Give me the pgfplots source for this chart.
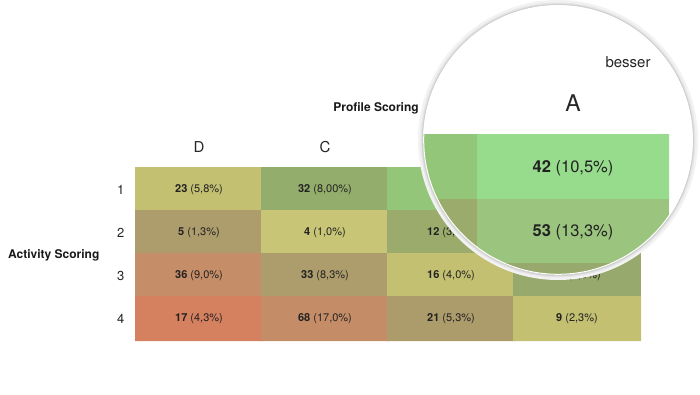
\documentclass[border=0pt]{standalone}
\usepackage{pgfplots}
\usepackage{pgfplotstable}
\pgfplotsset{compat=1.18}
\usepackage{fontspec}
\setmainfont{TeX Gyre Heros}
\definecolor{txt}{HTML}{222222}
\pgfplotstableread{
x y c
0 1 rgb255=196,192,114
1 1 rgb255=147,174,108
2 1 rgb255=148,198,122
3 1 rgb255=151,220,140
0 2 rgb255=174,157,108
1 2 rgb255=200,198,118
2 2 rgb255=154,171,107
3 2 rgb255=155,196,127
0 3 rgb255=198,142,104
1 3 rgb255=174,157,108
2 3 rgb255=196,192,114
3 3 rgb255=151,169,108
0 4 rgb255=213,128,95
1 4 rgb255=197,141,103
2 4 rgb255=173,156,107
3 4 rgb255=196,192,114
}\cells
\pgfplotstableread{
x y lab
0 1 \textbf{23}~(5,8\%)
1 1 \textbf{32}~(8,00\%)
2 1 \textbf{15}~(3,8\%)
3 1 \textbf{42}~(10,5\%)
0 2 \textbf{5}~(1,3\%)
1 2 \textbf{4}~(1,0\%)
2 2 \textbf{12}~(3,0\%)
3 2 \textbf{53}~(13,3\%)
0 3 \textbf{36}~(9,0\%)
1 3 \textbf{33}~(8,3\%)
2 3 \textbf{16}~(4,0\%)
3 3 \textbf{14}~(3,5\%)
0 4 \textbf{17}~(4,3\%)
1 4 \textbf{68}~(17,0\%)
2 4 \textbf{21}~(5,3\%)
3 4 \textbf{9}~(2,3\%)
}\labels
\pgfplotsset{
  heat/.style={scale only axis, xmin=-0.5, xmax=3.5, ymin=0.5, ymax=4.5,
    y dir=reverse, axis line style={draw=none}, major tick length=0pt,
    clip=false},
}
\begin{document}
\begin{tikzpicture}[x=1pt,y=1pt]
\path[use as bounding box] (0,0) rectangle (700,394);
\begin{axis}[heat, at={(136pt,54pt)}, anchor=south west,
  width=504pt, height=172pt,
  xtick={0,1,2,3}, xticklabels={D,C,B,A}, xticklabel pos=top,
  ytick={1,2,3,4}, yticklabels={1,2,3,4},
  xticklabel style={font=\fontsize{15}{18}\selectfont, text=black!85, yshift=12pt},
  yticklabel style={font=\fontsize{13}{16}\selectfont, text=black!85, xshift=-8pt}]
\addplot[matrix plot, mesh/cols=4, mesh/color input=explicit,
  point meta=explicit symbolic, faceted color=white, line width=2pt]
  table[meta=c] {\cells};
\addplot[only marks, mark=none, point meta=explicit symbolic,
  skip coords between index={3}{4}, skip coords between index={7}{8},
  nodes near coords,
  nodes near coords style={anchor=center, text=txt, font=\fontsize{11}{13}\selectfont}]
  table[meta=lab] {\labels};
\end{axis}
\node[anchor=center, font=\fontsize{12}{14}\selectfont\bfseries, text=black!90] at (376,286) {Profile Scoring};
\node[anchor=west, font=\fontsize{12}{14}\selectfont\bfseries, text=black!90, inner sep=0pt] at (8,139) {Activity Scoring};
% magnifier
\fill[black!5] (558,254) circle (140);
\fill[black!10] (558,254) circle (137.5);
\begin{scope}
\clip (558,254) circle (135);
\fill[white] (558,254) circle (135);
\begin{axis}[heat, at={(-88.5pt,0.5pt)}, anchor=south west,
  width=756pt, height=258pt, xtick=\empty, ytick=\empty]
\addplot[matrix plot, mesh/cols=4, mesh/color input=explicit,
  point meta=explicit symbolic, faceted color=white, line width=3pt]
  table[meta=c] {\cells};
\addplot[only marks, mark=none, point meta=explicit symbolic,
  skip coords between index={0}{3}, skip coords between index={4}{7},
  skip coords between index={8}{16},
  nodes near coords,
  nodes near coords style={anchor=center, text=txt, font=\fontsize{16.5}{19}\selectfont}]
  table[meta=lab] {\labels};
\end{axis}
\node[font=\fontsize{23}{26}\selectfont, text=black!85] at (573,291) {A};
\node[font=\fontsize{15}{18}\selectfont, text=black!85] at (628,332) {besser};
\end{scope}
\draw[black!18, line width=1.2pt] (558,254) circle (135.5);
\draw[white, line width=1pt] (558,254) circle (134.3);
\end{tikzpicture}
\end{document}
